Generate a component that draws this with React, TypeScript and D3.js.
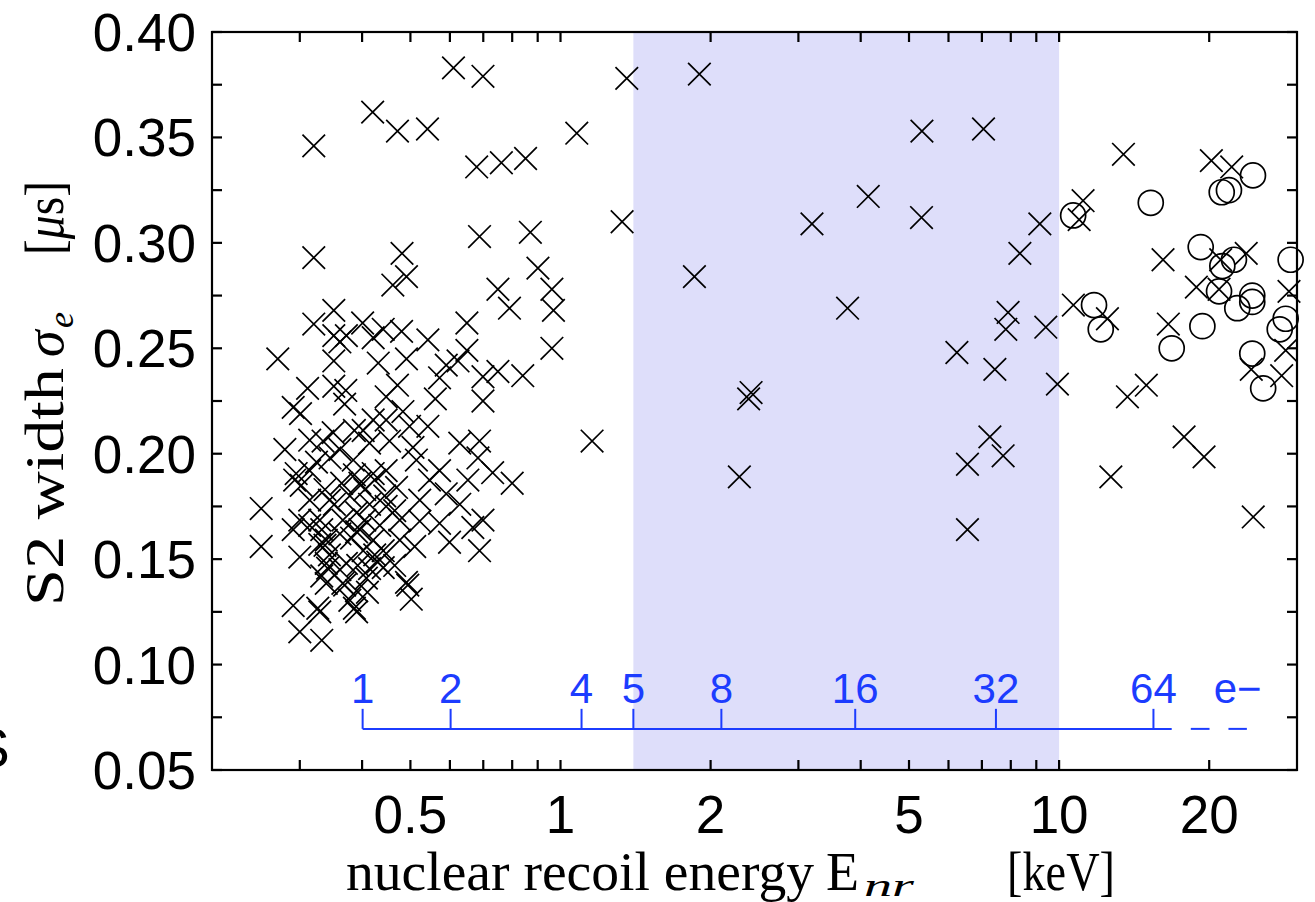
import React from "react";
import * as d3 from "d3";

// ---- data (nuclear recoil energy [keV], S2 width sigma_e [us]) ----
const nrCrosses: [number, number][] = [
  [0.610,0.383],[0.699,0.379],[0.420,0.362],[0.471,0.353],[0.541,0.354],[0.320,0.346],[0.679,0.336],[0.688,0.303],[0.320,0.293],[0.481,0.295],
  [1.358,0.378],[1.899,0.380],[1.078,0.352],[0.761,0.338],[0.851,0.340],[1.329,0.310],[0.870,0.305],[1.856,0.284],[0.901,0.288],[0.749,0.278],
  [0.961,0.278],[0.790,0.269],[0.968,0.268],[0.961,0.250],[0.699,0.2365],[0.749,0.239],[0.840,0.237],[0.699,0.225],[1.157,0.206],[0.688,0.206],
  [0.731,0.191],[0.800,0.186],[2.411,0.229],[2.384,0.226],[2.284,0.189],
  [5.307,0.353],[7.053,0.354],[4.142,0.322],[3.194,0.309],[5.297,0.312],[9.148,0.309],[8.343,0.295],[3.765,0.269],[7.901,0.267],[7.818,0.259],
  [9.404,0.260],[6.237,0.248],[7.433,0.240],[9.922,0.233],[7.264,0.208],[6.549,0.195],[7.722,0.199],[6.549,0.164],
  [13.46,0.342],[20.20,0.339],[22.19,0.336],[11.17,0.320],[10.97,0.311],[16.16,0.292],[21.09,0.292],[23.73,0.295],[18.85,0.279],[20.93,0.278],
  [28.91,0.277],[10.68,0.2705],[12.50,0.264],[16.56,0.2615],[28.47,0.249],[24.29,0.240],[27.95,0.237],[13.71,0.227],[14.96,0.2325],[17.81,0.208],
  [19.53,0.1985],[12.70,0.189],[24.51,0.170],
  [0.491,0.284],[0.461,0.280],[0.351,0.268],[0.320,0.2615],[0.401,0.262],[0.441,0.259],[0.480,0.258],[0.351,0.256],[0.372,0.256],[0.361,0.253],
  [0.421,0.255],[0.649,0.262],[0.542,0.254],[0.271,0.245],[0.351,0.244],[0.431,0.243],[0.491,0.245],[0.649,0.249],[0.590,0.242],[0.623,0.244],
  [0.572,0.236],[0.311,0.231],[0.351,0.232],[0.371,0.230],[0.471,0.2325],[0.447,0.227],[0.561,0.226],[0.291,0.222],[0.301,0.219],[0.369,0.2235],
  [0.483,0.220],[0.421,0.216],[0.542,0.213],[0.350,0.210],[0.334,0.206],[0.402,0.211],[0.498,0.213],[0.447,0.216],[0.628,0.205],[0.280,0.202],
  [0.361,0.202],[0.414,0.205],[0.506,0.203],
  [0.251,0.174],[0.251,0.156],[0.295,0.1906],[0.293,0.1875],[0.302,0.185],[0.324,0.196],[0.345,0.198],[0.384,0.197],[0.364,0.186],[0.396,0.186],
  [0.421,0.1906],[0.447,0.192],[0.469,0.184],[0.514,0.197],[0.572,0.192],[0.652,0.1875],[0.683,0.198],[0.590,0.181],[0.628,0.176],[0.572,0.167],
  [0.667,0.165],[0.699,0.1685],[0.688,0.154],[0.599,0.158],[0.510,0.156],[0.522,0.168],[0.476,0.159],[0.390,0.172],[0.366,0.1685],[0.414,0.176],
  [0.447,0.175],[0.300,0.1685],[0.291,0.164],[0.332,0.164],[0.300,0.151],[0.339,0.159],[0.361,0.162],[0.390,0.163],[0.421,0.159],[0.441,0.154],
  [0.402,0.154],[0.339,0.148],[0.372,0.148],[0.414,0.1455],[0.441,0.146],[0.339,0.1385],[0.366,0.1385],[0.408,0.141],[0.332,0.142],[0.491,0.139],
  [0.502,0.131],[0.390,0.135],[0.291,0.128],[0.329,0.125],[0.390,0.125],[0.300,0.1155],[0.332,0.1115],
  [0.314,0.192],[0.337,0.183],[0.378,0.180],[0.352,0.176],[0.405,0.1685],[0.434,0.166],[0.465,0.173],[0.314,0.178],[0.341,0.1457],[0.369,0.1377],
  [0.392,0.147],[0.430,0.1486],[0.410,0.1343],[0.494,0.1377],[0.326,0.1267],[0.386,0.1267],[0.337,0.1566],[0.381,0.160],
  [0.329,0.157],[0.344,0.152],[0.361,0.145],[0.329,0.1685],[0.386,0.190],[0.405,0.183],[0.424,0.1875],[0.444,0.180],[0.344,0.178],[0.396,0.164],
  [0.314,0.166],[0.378,0.1305],[0.424,0.152],[0.465,0.147],[0.476,0.1685],[0.522,0.178],[0.546,0.1875],[0.314,0.2064],[0.386,0.211],[0.454,0.206],
];

const erCircles: [number, number][] = [
  [10.67,0.313],[15.27,0.319],[21.19,0.324],[21.91,0.325],[24.48,0.332],[19.23,0.298],[21.25,0.289],[22.42,0.292],[29.13,0.292],[20.93,0.277],
  [24.40,0.275],[24.40,0.272],[22.77,0.269],[11.75,0.2705],[12.12,0.259],[19.38,0.2605],[16.82,0.250],[28.47,0.264],[27.70,0.259],[24.40,0.2475],
  [25.66,0.231],
];

// electron-count scale (blue) mapped to nuclear recoil energy
const electronCounts = ["1", "2", "4", "5", "8", "16", "32", "64"];
const electronEnergies = [0.401, 0.602, 1.102, 1.40, 2.102, 3.90, 7.47, 15.46];
const electronAxisEnd = 16.82;
const electronDashes: [number, number][] = [[18.37, 20.03], [21.86, 23.80]];
const electronUnitLabel = "e\u2212";
const electronUnitE = 22.8;
const electronAxisSigma = 0.0695;
const electronTickTopSigma = 0.0790;
const electronLabelSigma = 0.0818;

// shaded analysis window
const windowRange: [number, number] = [1.4, 10];

// axes
const xDomain: [number, number] = [0.2, 30];
const yDomain: [number, number] = [0.05, 0.40];
const xTickValues = [0.3, 0.4, 0.5, 0.6, 0.7, 0.8, 0.9, 1, 2, 3, 4, 5, 6, 7, 8, 9, 10, 20];
const xLabelValues = [0.5, 1, 2, 5, 10, 20];
const xLabelTexts = ["0.5", "1", "2", "5", "10", "20"];
const yTickValues = d3.range(0, 15).map((i) => 0.05 + i * 0.025);
const yLabelValues = [0.05, 0.10, 0.15, 0.20, 0.25, 0.30, 0.35, 0.40];

const SANS = "'Liberation Sans', Arial, Helvetica, sans-serif";
const SERIF = "'Liberation Serif', 'Times New Roman', serif";
const BLUE = "#1c3cff";

export default function App() {
  const L = 212, R = 1297, T = 32, B = 770;
  const x = d3.scaleLog().domain(xDomain).range([L, R]);
  const y = d3.scaleLinear().domain(yDomain).range([B, T]);
  const tickLen = 10;
  const cs = 11.3;

  return (
    <svg width={1315} height={902} style={{ position: "absolute", left: 0, top: 0, background: "#fff" }}>
      <rect x={0} y={0} width={1315} height={902} fill="#fff" />
      {/* shaded window */}
      <rect x={x(windowRange[0])} y={T} width={x(windowRange[1]) - x(windowRange[0])} height={B - T} fill="#dedefa" />

      {/* electron count scale */}
      <g stroke={BLUE} strokeWidth={2} fill="none">
        <line x1={x(electronEnergies[0])} x2={x(electronAxisEnd)} y1={y(electronAxisSigma)} y2={y(electronAxisSigma)} />
        {electronEnergies.map((e, i) => (
          <line key={i} x1={x(e)} x2={x(e)} y1={y(electronAxisSigma)} y2={y(electronTickTopSigma)} />
        ))}
        {electronDashes.map((d, i) => (
          <line key={"d" + i} x1={x(d[0])} x2={x(d[1])} y1={y(electronAxisSigma)} y2={y(electronAxisSigma)} />
        ))}
      </g>
      <g fill={BLUE} fontFamily={SANS} fontSize={42} textAnchor="middle">
        {electronEnergies.map((e, i) => (
          <text key={i} x={x(e)} y={y(electronLabelSigma)}>{electronCounts[i]}</text>
        ))}
        <text x={x(electronUnitE)} y={y(electronLabelSigma)}>{electronUnitLabel}</text>
      </g>

      {/* nuclear recoil crosses and electron recoil circles */}
      <g stroke="#000" strokeWidth={1.7} fill="none">
        {nrCrosses.map((p, i) => {
          const cx = x(p[0]), cy = y(p[1]);
          return (
            <path key={i} d={`M${cx - cs},${cy - cs}L${cx + cs},${cy + cs}M${cx - cs},${cy + cs}L${cx + cs},${cy - cs}`} />
          );
        })}
        {erCircles.map((p, i) => (
          <circle key={"c" + i} cx={x(p[0])} cy={y(p[1])} r={12.5} />
        ))}
      </g>

      {/* axes box and ticks */}
      <g stroke="#000" strokeWidth={2.2} fill="none">
        <rect x={L} y={T} width={R - L} height={B - T} />
        {xTickValues.map((v, i) => (
          <g key={"xt" + i}>
            <line x1={x(v)} x2={x(v)} y1={B} y2={B - tickLen} />
            <line x1={x(v)} x2={x(v)} y1={T} y2={T + tickLen} />
          </g>
        ))}
        {yTickValues.map((v, i) => (
          <g key={"yt" + i}>
            <line x1={L} x2={L + tickLen} y1={y(v)} y2={y(v)} />
            <line x1={R} x2={R - tickLen} y1={y(v)} y2={y(v)} />
          </g>
        ))}
      </g>

      {/* tick labels */}
      <g fontFamily={SANS} fontSize={53} fill="#000">
        {xLabelValues.map((v, i) => (
          <text key={"xl" + i} x={x(v)} y={B + 63} textAnchor="middle">{xLabelTexts[i]}</text>
        ))}
        {yLabelValues.map((v, i) => (
          <text key={"yl" + i} x={196} y={y(v) + 19} textAnchor="end">{d3.format(".2f")(v)}</text>
        ))}
      </g>

      {/* x axis label */}
      <g fontFamily={SERIF} fill="#000">
        <text x={346} y={890} fontSize={54} textLength={468} lengthAdjust="spacingAndGlyphs">nuclear recoil energy</text>
        <text x={826} y={890} fontSize={54}>E</text>
        <text x={864} y={896} fontSize={31} fontStyle="italic" textLength={50} lengthAdjust="spacingAndGlyphs">nr</text>
        <text x={1007} y={890} fontSize={54} textLength={108} lengthAdjust="spacingAndGlyphs">[keV]</text>
      </g>

      {/* y axis label */}
      <g fontFamily={SERIF} fill="#000" transform="translate(63,606) rotate(-90)">
        <text x={0} y={0} fontSize={54} textLength={238} lengthAdjust="spacingAndGlyphs">S2 width</text>
        <text x={249} y={0} fontSize={54} fontStyle="italic">σ</text>
        <text x={278} y={10} fontSize={36} fontStyle="italic">e</text>
        <text x={351} y={0} fontSize={54} textLength={74} lengthAdjust="spacingAndGlyphs">[<tspan fontStyle="italic">μ</tspan>s]</text>
      </g>

      {/* clipped glyph from neighbouring panel */}
      <text x={-27} y={767} fontFamily={SANS} fontSize={55} fill="#000">S</text>
    </svg>
  );
}
